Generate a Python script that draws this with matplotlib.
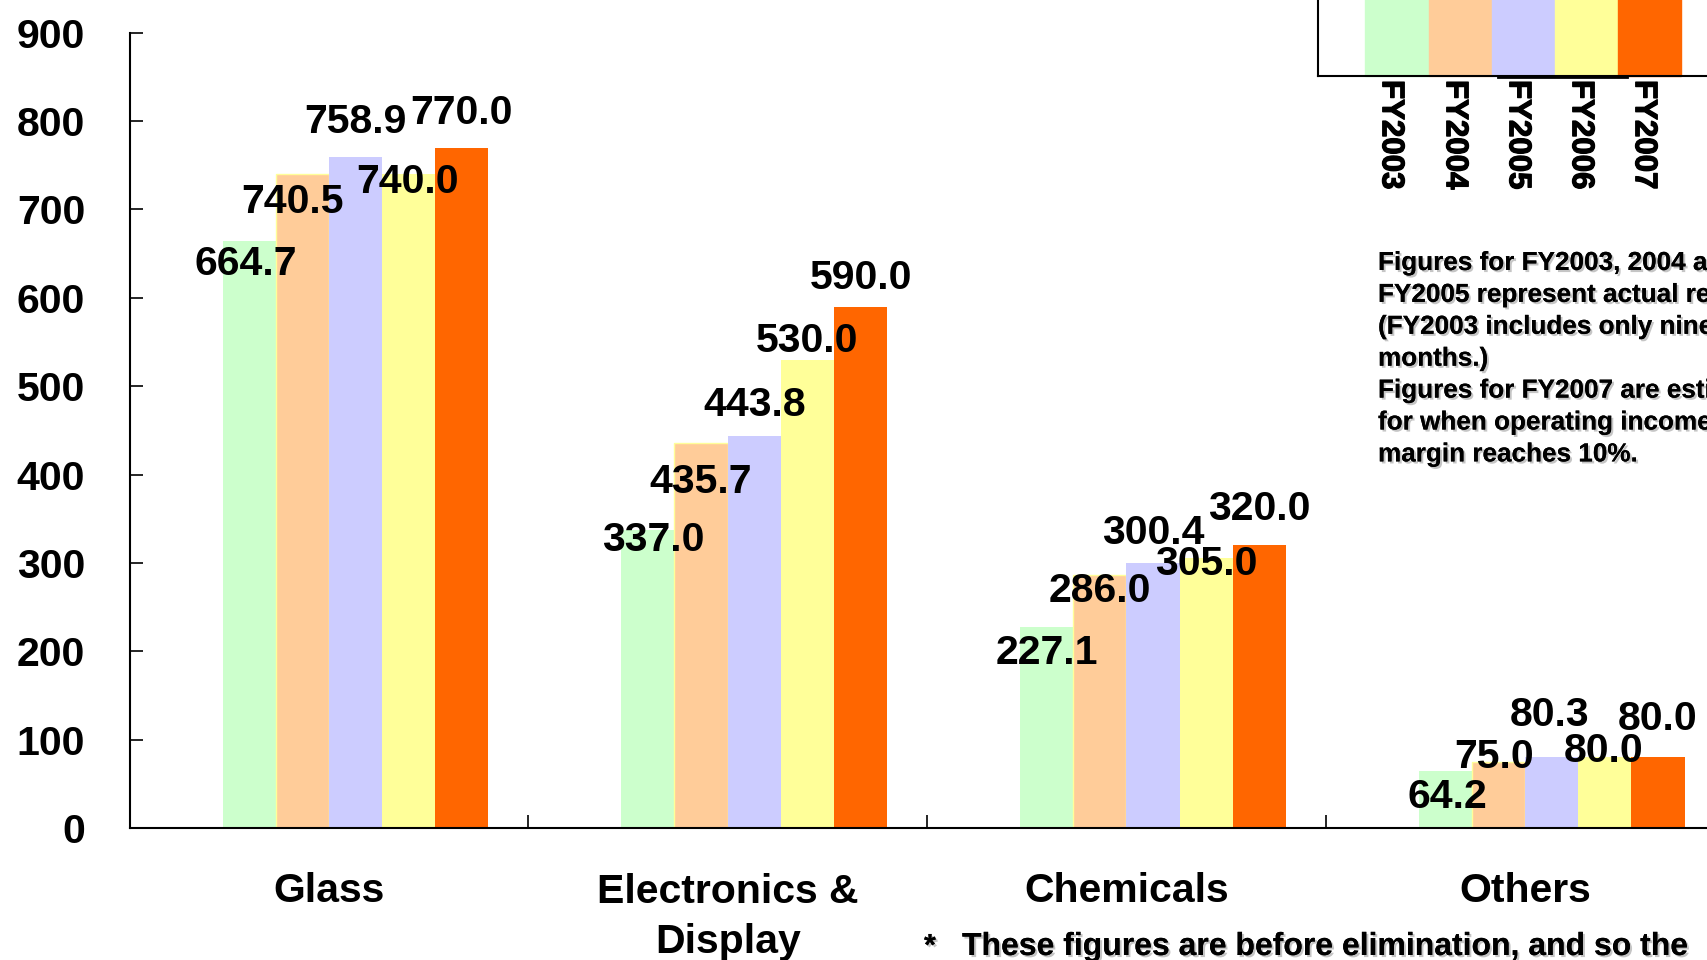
import matplotlib
matplotlib.use('Agg')
import matplotlib.pyplot as plt
import matplotlib.patheffects as pe
from matplotlib.patches import Rectangle
import numpy as np

plt.rcParams['font.family'] = ['Liberation Sans', 'DejaVu Sans']
plt.rcParams['font.weight'] = 'bold'

# 各事業の営業利益（億円）
categories = ['Glass', 'Electronics &\nDisplay', 'Chemicals', 'Others']
years = ['FY2003', 'FY2004', 'FY2005', 'FY2006', 'FY2007']
fy2003 = [664.7, 337.0, 227.1, 64.2]
fy2004 = [740.5, 435.7, 286.0, 75.0]
fy2005 = [758.9, 443.8, 300.4, 80.3]
fy2006 = [740.0, 530.0, 305.0, 80.0]
fy2007 = [770.0, 590.0, 320.0, 80.0]
series = [fy2003, fy2004, fy2005, fy2006, fy2007]
colors = ['#CCFFCC', '#FFCC99', '#CCCCFF', '#FFFF99', '#FF6600']
edges = ['none', '#FFFF99', 'none', 'none', 'none']

# ラベル位置の微調整（ピクセル、右/下が正）
label_dx = [[-3, -10, 0, -1, 0],
            [5, 0, 0, 0, 0],
            [0, 0, 0, 0, 0],
            [2, -4, -2, -1, 0]]
label_dy = [[21, 26, -37, 6, -37],
            [8, 37, -33, -21, -31],
            [24, 14, -32, 4, -38],
            [24, -7, -44, -8, -40]]

notes = ['Figures for FY2003, 2004 and',
         'FY2005 represent actual results.',
         '(FY2003 includes only nine',
         'months.)',
         'Figures for FY2007 are estimates',
         'for when operating income',
         'margin reaches 10%.']

W, H = 1708, 960
fig = plt.figure(figsize=(W / 100, H / 100), dpi=100)
ax = fig.add_axes([129.6 / W, 1 - 828 / H, 1594.8 / W, (828 - 32.7) / H])

x = np.arange(len(categories))
width = 1 / 7.5
for i, vals in enumerate(series):
    off = -0.4 + width * (i + 1.5)   # 先頭のスロットは空系列
    ax.bar(x + off, vals, width, color=colors[i], edgecolor=edges[i],
           linewidth=1.0, zorder=2)
    for j, v in enumerate(vals):
        ax.annotate(f'{v:.1f}', xy=(x[j] + off, v),
                    xytext=(label_dx[j][i], -(label_dy[j][i] + 13)),
                    textcoords='offset pixels', ha='center', va='baseline',
                    fontsize=29.5, fontweight='bold', color='black', zorder=3)

ax.set_xlim(-0.5, 3.5)
ax.set_ylim(0, 900)
ax.set_yticks(np.arange(0, 901, 100))
ax.set_xticks([0.5, 1.5, 2.5])
ax.set_xticklabels([])
ax.tick_params(axis='y', direction='in', length=9.4, width=1.2, pad=32,
               labelsize=29.5)
ax.tick_params(axis='x', direction='in', length=9.4, width=1.2)
for lab in ax.get_yticklabels():
    lab.set_fontweight('bold')
for s in ['top', 'right']:
    ax.spines[s].set_visible(False)
for s in ['left', 'bottom']:
    ax.spines[s].set_linewidth(1.5)

# 項目名（複数行は最終行のベースラインで揃う）
for j, name in enumerate(categories):
    nl = name.count('\n')
    ax.annotate(name, xy=(x[j], 0), xycoords=('data', 'axes fraction'),
                xytext=(0, -74 - 51 * nl), textcoords='offset pixels',
                ha='center', va='baseline', fontsize=29.5, fontweight='bold',
                linespacing=1.41)

# 凡例（右上、手描き）
def fx(px):
    return px / W

def fy(py):
    return 1 - py / H

lx = [1365, 1429, 1492, 1555, 1618]
lw = 63.5
heavy = [pe.withStroke(linewidth=0.9, foreground='black')]
for i, name in enumerate(years):
    fig.add_artist(Rectangle((fx(lx[i]), fy(76)), lw / W, 80 / H,
                             transform=fig.transFigure, color=colors[i],
                             zorder=1))
    fig.text(fx(lx[i] + lw / 2 - 6), fy(80), name, rotation=270, ha='center',
             va='top', fontsize=22.5, fontweight='bold', path_effects=heavy)
fig.add_artist(plt.Line2D([fx(1318), fx(1318)], [fy(76), fy(-5)],
                          transform=fig.transFigure, color='black', lw=1.5))
fig.add_artist(plt.Line2D([fx(1318), fx(1720)], [fy(76), fy(76)],
                          transform=fig.transFigure, color='black', lw=1.5))
fig.add_artist(plt.Line2D([fx(1498), fx(1627)], [fy(77), fy(77)],
                          transform=fig.transFigure, color='black', lw=2))

shadow = [pe.withSimplePatchShadow(offset=(1.5, -1.5), shadow_rgbFace='0.55',
                                   alpha=0.5), pe.Normal()]
for k, line in enumerate(notes):
    fig.text(fx(1378), fy(270 + 31.9 * k), line, ha='left', va='baseline',
             fontsize=18.8, fontweight='bold', path_effects=shadow)

fig.text(fx(924), fy(955), '*', ha='left', va='baseline', fontsize=22,
         fontweight='bold', path_effects=shadow)
fig.text(fx(962), fy(955), 'These figures are before elimination, and so the',
         ha='left', va='baseline', fontsize=23, fontweight='bold',
         family=['Liberation Sans Narrow', 'Liberation Sans'],
         path_effects=shadow)

fig.savefig('out.png', dpi=100)
